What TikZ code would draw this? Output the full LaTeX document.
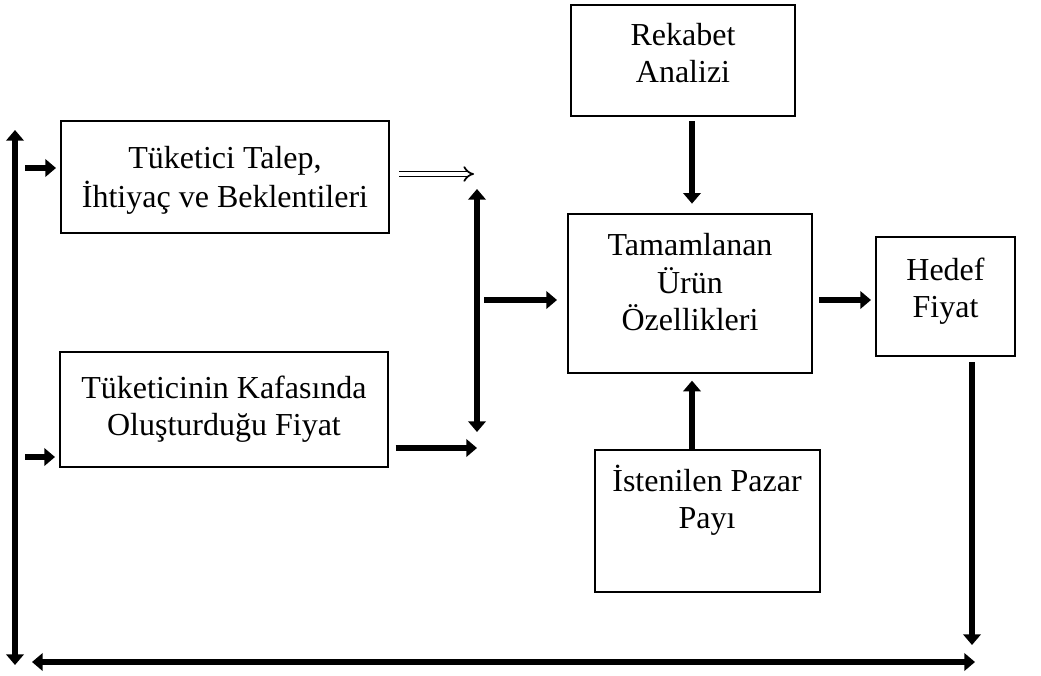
\documentclass[tikz,border=0pt]{standalone}
\usepackage{fontspec}
\setmainfont{Liberation Serif}
\usetikzlibrary{arrows.meta,fit}
\begin{document}
\begin{tikzpicture}[x=0.75pt,y=-0.75pt,
  box/.style={draw,line width=1.5pt,inner sep=0pt},
  lbl/.style={anchor=north,inner sep=0pt,align=center,font=\fontsize{24}{27.6}\selectfont},
  arr/.style={line width=5pt,-{Triangle[length=8pt,width=13pt]}},
  darr/.style={line width=5pt,{Triangle[length=8pt,width=13pt]}-{Triangle[length=8pt,width=13pt]}},
  hollow/.style={double,double distance=2.6pt,line width=1.3pt,-{Implies}}]
\useasboundingbox (0,0) rectangle (1041,675);

% boxes
\node[box,fit={(571,5)(795,116)}] (rek) {};
\node[box,fit={(61,121)(389,233)}] (tuk) {};
\node[box,fit={(568,214)(812,373)}] (tam) {};
\node[box,fit={(876,237)(1015,356)}] (hed) {};
\node[box,fit={(60,352)(388,467)}] (kaf) {};
\node[box,fit={(595,450)(820,592)}] (ist) {};

% box texts
\node[lbl] (rekT) at (683,19.2) {\strut Rekabet\\Analizi};
\node[lbl] (tukT) at (225,142.2) {\strut Tüketici Talep,\\İhtiyaç ve Beklentileri};
\node[lbl] (tamT) at (690,229.2) {\strut Tamamlanan\\Ürün\\Özellikleri};
\node[lbl] (hedT) at (945.5,254.2) {\strut Hedef\\Fiyat};
\node[lbl] (kafT) at (224,372.2) {\strut Tüketicinin Kafasında\\Oluşturduğu Fiyat};
\node[lbl] (istT) at (707,465.2) {\strut İstenilen Pazar\\Payı};

% helper coordinates
\coordinate (L1) at (15,130);
\coordinate (L2) at (15,665);
\coordinate (B1) at (32,662);
\coordinate (B2) at (975,662);
\coordinate (hd) at (972,645);
\coordinate (s1) at (25,168);
\coordinate (s2) at (25,457);
\coordinate (h2) at (474,174);
\coordinate (J1) at (477,189);
\coordinate (J2) at (477,432);
\coordinate (j3) at (484,300);
\coordinate (k2) at (477,448);
\coordinate (ux) at (692,0);
\coordinate (t3) at (0,300);

% connectors
\draw[darr] (L1) -- (L2);
\draw[darr] (B1) -- (B2);
\draw[arr,shorten <=4pt] (hed.south -| hd) -- (hd);
\draw[arr,shorten >=3pt] (s1) -- (s1 -| tuk.west);
\draw[arr,shorten >=3pt] (s2) -- (s2 -| kaf.west);
\draw[hollow,shorten <=7pt] (h2 -| tuk.east) -- (h2);
\draw[darr] (J1) -- (J2);
\draw[arr,shorten >=7.5pt] (j3) -- (j3 -| tam.west);
\draw[arr,shorten <=5pt] (k2 -| kaf.east) -- (k2);
\draw[arr,shorten <=3pt,shorten >=7pt] (rek.south -| ux) -- (tam.north -| ux);
\draw[arr,shorten >=5pt] (ist.north -| ux) -- (tam.south -| ux);
\draw[arr,shorten <=4.5pt,shorten >=3pt] (t3 -| tam.east) -- (t3 -| hed.west);
\end{tikzpicture}
\end{document}
